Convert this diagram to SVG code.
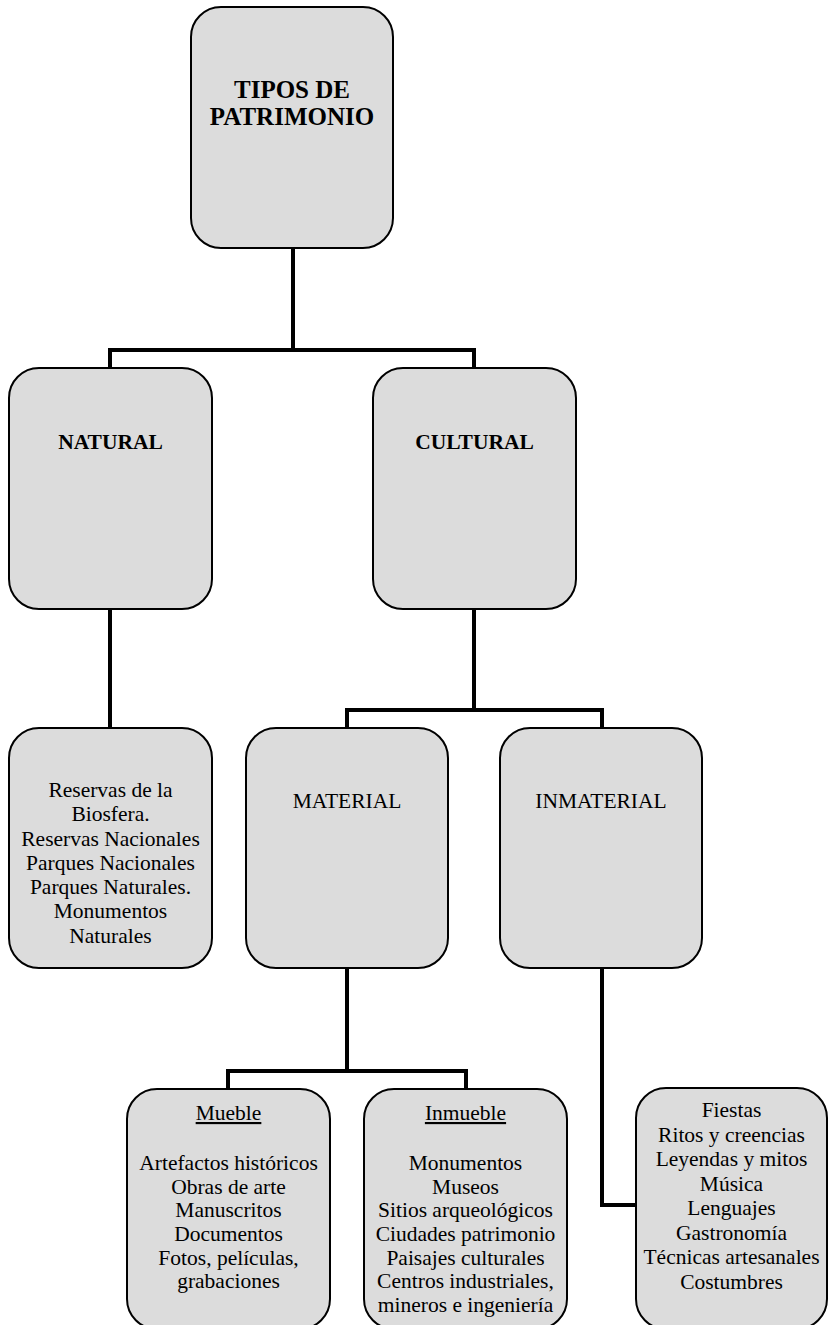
<svg xmlns="http://www.w3.org/2000/svg" width="829" height="1325" viewBox="0 0 829 1325">
<style>
.box{fill:#dcdcdc;stroke:#000;stroke-width:2}
.t{font-family:"Liberation Serif","Times New Roman",serif;font-size:21.5px;fill:#000;text-anchor:middle}
.b{font-weight:bold}
.h{font-size:25px}
.u{text-decoration:underline}
.c{fill:none;stroke:#000;stroke-width:4;stroke-linejoin:miter;stroke-linecap:butt}
</style>
<rect width="829" height="1325" fill="#fff"/>
<g id="connectors">
<path class="c" d="M293,248 V350 M110,368 V350 H474 V368"/>
<path class="c" d="M110,609 V728"/>
<path class="c" d="M474,609 V710 M347,728 V710 H602 V728"/>
<path class="c" d="M347,968 V1071 M228,1089 V1071 H466 V1089"/>
<path class="c" d="M602,968 V1205 H636"/>
</g>
<g id="tipos">
<rect class="box" x="191" y="7" width="202" height="241" rx="30"/>
<text class="t b h" x="292" y="98">TIPOS DE</text>
<text class="t b h" x="292" y="125">PATRIMONIO</text>
</g>
<g id="natural">
<rect class="box" x="9" y="368" width="203" height="241" rx="30"/>
<text class="t b" x="110.5" y="449">NATURAL</text>
</g>
<g id="cultural">
<rect class="box" x="373" y="368" width="203" height="241" rx="30"/>
<text class="t b" x="474.5" y="449">CULTURAL</text>
</g>
<g id="natural-list">
<rect class="box" x="9" y="728" width="203" height="240" rx="30"/>
<text class="t" x="110.5" y="797">Reservas de la</text>
<text class="t" x="110.5" y="821">Biosfera.</text>
<text class="t" x="110.5" y="846">Reservas Nacionales</text>
<text class="t" x="110.5" y="870">Parques Nacionales</text>
<text class="t" x="110.5" y="894">Parques Naturales.</text>
<text class="t" x="110.5" y="918">Monumentos</text>
<text class="t" x="110.5" y="943">Naturales</text>
</g>
<g id="material">
<rect class="box" x="246" y="728" width="202" height="240" rx="30"/>
<text class="t" x="347" y="808">MATERIAL</text>
</g>
<g id="inmaterial">
<rect class="box" x="500" y="728" width="202" height="240" rx="30"/>
<text class="t" x="601" y="808">INMATERIAL</text>
</g>
<g id="mueble">
<rect class="box" x="127" y="1089" width="203" height="240" rx="30"/>
<text class="t u" x="228.5" y="1120">Mueble</text>
<text class="t" x="228.5" y="1170">Artefactos históricos</text>
<text class="t" x="228.5" y="1193.5">Obras de arte</text>
<text class="t" x="228.5" y="1217">Manuscritos</text>
<text class="t" x="228.5" y="1241">Documentos</text>
<text class="t" x="228.5" y="1264.5">Fotos, películas,</text>
<text class="t" x="228.5" y="1288">grabaciones</text>
</g>
<g id="inmueble">
<rect class="box" x="364" y="1089" width="203" height="240" rx="30"/>
<text class="t u" x="465.5" y="1120">Inmueble</text>
<text class="t" x="465.5" y="1170">Monumentos</text>
<text class="t" x="465.5" y="1193.5">Museos</text>
<text class="t" x="465.5" y="1217">Sitios arqueológicos</text>
<text class="t" x="465.5" y="1241">Ciudades patrimonio</text>
<text class="t" x="465.5" y="1264.5">Paisajes culturales</text>
<text class="t" x="465.5" y="1288">Centros industriales,</text>
<text class="t" x="465.5" y="1312">mineros e ingeniería</text>
</g>
<g id="inmaterial-list">
<rect class="box" x="636" y="1088" width="191" height="241" rx="30"/>
<text class="t" x="731.5" y="1117">Fiestas</text>
<text class="t" x="731.5" y="1141.5">Ritos y creencias</text>
<text class="t" x="731.5" y="1166">Leyendas y mitos</text>
<text class="t" x="731.5" y="1190.5">Música</text>
<text class="t" x="731.5" y="1215">Lenguajes</text>
<text class="t" x="731.5" y="1239.5">Gastronomía</text>
<text class="t" x="731.5" y="1264">Técnicas artesanales</text>
<text class="t" x="731.5" y="1288.5">Costumbres</text>
</g>
</svg>
